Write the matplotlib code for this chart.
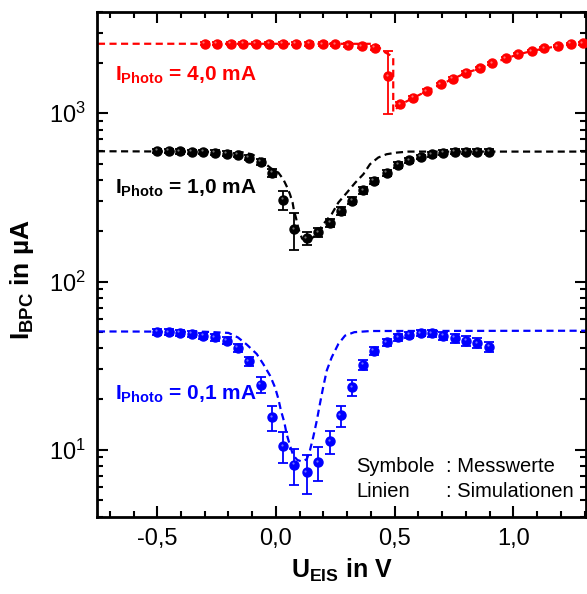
import matplotlib.pyplot as plt
import matplotlib.transforms as mtransforms
from matplotlib.ticker import FixedLocator, MultipleLocator, LogLocator, NullFormatter

plt.rcParams['font.family'] = 'Liberation Sans'
plt.rcParams['mathtext.fontset'] = 'custom'
plt.rcParams['mathtext.rm'] = 'Liberation Sans'
plt.rcParams['mathtext.bf'] = 'Liberation Sans:bold'

# measured data (U_EIS in V, I_BPC in uA)
u_meas = [-0.500, -0.451, -0.405, -0.355, -0.306, -0.257, -0.208, -0.161, -0.114, -0.064,
          -0.016, 0.031, 0.077, 0.129, 0.178, 0.228, 0.274, 0.322, 0.368, 0.413,
          0.466, 0.515, 0.562, 0.610, 0.656, 0.705, 0.754, 0.801, 0.848, 0.899]

i_1mA = [597, 597, 594, 591, 589, 583, 575, 566, 546, 514,
         444, 306, 205, 181, 196, 224, 263, 302, 349, 397,
         444, 493, 526, 550, 571, 584, 592, 592, 592, 592]
err_1mA = [18, 18, 18, 18, 18, 18, 18, 18, 20, 20,
           25, 40, 50, 17, 12, 12, 14, 15, 16, 18,
           18, 18, 18, 18, 18, 18, 18, 18, 18, 18]

i_01mA = [50.4, 49.9, 49.5, 48.8, 47.6, 46.6, 44.5, 40.3, 33.6, 24.4,
          15.6, 10.5, 8.15, 7.36, 8.44, 11.2, 16.0, 23.5, 32.1, 38.8,
          43.5, 46.6, 48.1, 49.2, 49.2, 47.6, 46.2, 44.5, 43.0, 41.0]
err_01mA = [2.0, 2.0, 2.0, 2.0, 2.0, 2.0, 2.0, 2.0, 2.2, 2.6,
            2.6, 2.2, 2.0, 1.9, 1.9, 1.8, 2.3, 2.5, 2.3, 2.0,
            2.0, 2.0, 2.0, 2.0, 2.2, 2.5, 2.8, 2.9, 3.0, 3.0]

u_4mA = [-0.299, -0.250, -0.191, -0.138, -0.084, -0.028, 0.028, 0.084, 0.140, 0.197,
         0.249, 0.305, 0.361, 0.417, 0.473, 0.523, 0.579, 0.635, 0.694, 0.745,
         0.801, 0.860, 0.912, 0.969, 1.021, 1.078, 1.131, 1.187, 1.242, 1.292]
i_4mA = [2590, 2590, 2590, 2590, 2590, 2590, 2590, 2590, 2585, 2580,
         2565, 2540, 2506, 2449, 1665, 1131, 1238, 1356, 1486, 1604,
         1741, 1850, 1981, 2120, 2239, 2343, 2431, 2506, 2588, 2601]
err_4mA = [60, 60, 60, 60, 60, 60, 60, 60, 60, 60,
           60, 60, 60, 60, 670, 30, 30, 30, 35, 35,
           35, 40, 40, 40, 40, 40, 40, 40, 40, 40]

# simulations
u_sim_4mA = [-0.75, 0.40, 0.42, 0.44, 0.46, 0.48, 0.494, 0.494, 0.523, 0.579, 0.635, 0.694,
             0.745, 0.801, 0.860, 0.912, 0.969, 1.021, 1.078, 1.131, 1.187, 1.242, 1.292, 1.32]
i_sim_4mA = [2590, 2588, 2560, 2420, 2300, 2220, 2150, 1020, 1125, 1235, 1355, 1485,
             1600, 1740, 1850, 1980, 2120, 2240, 2345, 2430, 2505, 2585, 2600, 2610]

u_sim_1mA = [-0.75, -0.15, -0.10, -0.067, -0.04, -0.02, 0.010, 0.031, 0.048, 0.059, 0.070,
             0.076, 0.084, 0.095, 0.11, 0.13, 0.16, 0.18, 0.199, 0.235, 0.263, 0.299,
             0.334, 0.368, 0.396, 0.431, 0.466, 0.509, 0.558, 1.32]
i_sim_1mA = [595, 590, 570, 535, 495, 470, 444, 405, 361, 330, 295,
             263, 240, 205, 180, 172, 185, 200, 219, 252, 295, 338,
             387, 434, 498, 546, 571, 584, 592, 592]

u_sim_01mA = [-0.75, -0.3, -0.2, -0.16, -0.123, -0.081, -0.054, -0.025, -0.004, 0.010,
              0.021, 0.035, 0.045, 0.059, 0.073, 0.09, 0.11, 0.13, 0.143, 0.157,
              0.172, 0.185, 0.199, 0.214, 0.235, 0.263, 0.291, 0.33, 0.40, 1.32]
i_sim_01mA = [50.5, 50.3, 49.5, 46.5, 42.2, 37.1, 32.4, 27.6, 23.5, 20.1,
              17.1, 14.6, 12.4, 10.6, 9.25, 8.7, 8.5, 8.8, 9.9, 11.9,
              14.9, 18.7, 23.6, 29.6, 35.5, 42.6, 47.7, 50.0, 50.8, 51.0]

fig = plt.figure(figsize=(5.87, 5.94), dpi=100)
ax = fig.add_axes([0.1652, 0.1301, 0.8331, 0.8497])

dash = (3.2, 2.0)
hl = ax.transData + mtransforms.ScaledTranslation(-1.1 / 72, 1.1 / 72, fig.dpi_scale_trans)

series = [
    (u_4mA, i_4mA, err_4mA, u_sim_4mA, i_sim_4mA, 'red', '#ff7070'),
    (u_meas, i_1mA, err_1mA, u_sim_1mA, i_sim_1mA, 'black', '#707070'),
    (u_meas, i_01mA, err_01mA, u_sim_01mA, i_sim_01mA, 'blue', '#7070ff'),
]
for u, i, e, us, isim, c, light in series:
    ax.plot(us, isim, color=c, lw=1.6, dashes=dash, zorder=2)
    ax.errorbar(u, i, yerr=e, fmt='o', color=c, mec=c, ms=6.5, capsize=3.5,
                elinewidth=1.3, capthick=1.3, zorder=3)
    ax.plot(u, i, 'o', color=light, ms=1.6, mew=0, transform=hl, zorder=4)

ax.set_yscale('log')
ax.set_xlim(-0.754, 1.306)
ax.set_ylim(4, 4000)

ax.xaxis.set_major_locator(FixedLocator([-0.5, 0.0, 0.5, 1.0]))
ax.set_xticklabels(['-0,5', '0,0', '0,5', '1,0'])
ax.xaxis.set_minor_locator(MultipleLocator(0.1))
ax.yaxis.set_minor_locator(LogLocator(base=10, subs=range(2, 10)))
ax.yaxis.set_minor_formatter(NullFormatter())

ax.tick_params(which='both', direction='in', top=True, right=True, width=1.5)
ax.tick_params(which='major', length=8, labelsize=17, pad=8)
ax.tick_params(which='minor', length=4.5)
for s in ax.spines.values():
    s.set_linewidth(2)

ax.set_xlabel(r'$\mathbf{U_{EIS}}$ in V', fontsize=18, fontweight='bold')
ax.xaxis.set_label_coords(0.5, -0.08)
ax.set_ylabel(r'$\mathbf{I_{BPC}}$ in µA', fontsize=19, fontweight='bold')
ax.yaxis.set_label_coords(-0.125, 0.47)

ax.text(-0.68, 1690, r'$\mathbf{I_{Photo}}$ = 4,0 mA', color='red', fontsize=15,
        fontweight='bold', va='center')
ax.text(-0.68, 358, r'$\mathbf{I_{Photo}}$ = 1,0 mA', color='black', fontsize=15,
        fontweight='bold', va='center')
ax.text(-0.68, 21.3, r'$\mathbf{I_{Photo}}$ = 0,1 mA', color='blue', fontsize=15,
        fontweight='bold', va='center')

ax.text(0.530, 0.100, 'Symbole', transform=ax.transAxes, fontsize=14.5, va='center')
ax.text(0.714, 0.100, ': Messwerte', transform=ax.transAxes, fontsize=14.5, va='center')
ax.text(0.530, 0.049, 'Linien', transform=ax.transAxes, fontsize=14.5, va='center')
ax.text(0.714, 0.049, ': Simulationen', transform=ax.transAxes, fontsize=14.5, va='center')

fig.savefig('out.png', dpi=100)
